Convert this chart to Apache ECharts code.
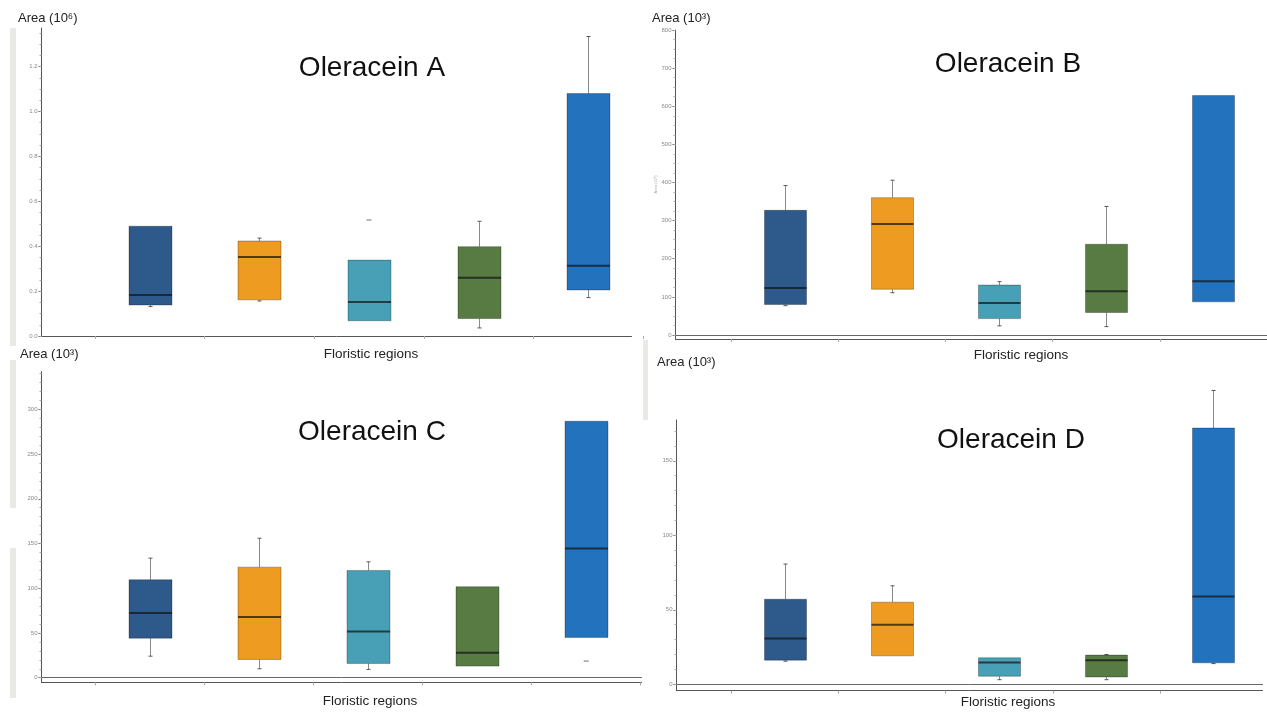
<!DOCTYPE html>
<html><head><meta charset="utf-8">
<script src="https://cdn.jsdelivr.net/npm/echarts@6/dist/echarts.min.js"></script>
<style>html,body{margin:0;padding:0;background:#fff}#c{width:1267px;height:713px}</style>
</head><body><div id="c"></div>
<script>
const regions = ['Region 1', 'Region 2', 'Region 3', 'Region 4', 'Region 5'];
const boxColors = ['#2E5A8B', '#EE9B21', '#48A0B6', '#587B43', '#2272BE'];

// Oleracein A, Area (10^6)
const A_min    = [0.131, 0.156, 0.068, 0.036, 0.171];
const A_q1     = [0.138, 0.161, 0.068, 0.078, 0.205];
const A_median = [0.183, 0.352, 0.152, 0.259, 0.313];
const A_q3     = [0.489, 0.423, 0.338, 0.398, 1.080];
const A_max    = [0.489, 0.436, 0.338, 0.511, 1.334];
const A_outliers = [[2, 0.517]];
const A_ticks  = [0, 0.2, 0.4, 0.6, 0.8, 1.0, 1.2];

// Oleracein B, Area (10^3)
const B_min    = [77, 111, 24, 22, 87];
const B_q1     = [80, 120, 43, 59, 87];
const B_median = [123, 291, 84, 115, 141];
const B_q3     = [327, 360, 131, 238, 628];
const B_max    = [392, 406, 140, 337, 628];
const B_outliers = [];
const B_ticks  = [0, 100, 200, 300, 400, 500, 600, 700, 800];

// Oleracein C, Area (10^3)
const C_min    = [24.1, 10.0, 9.3, 13.0, 44.9];
const C_q1     = [44.2, 20.4, 16.0, 13.0, 44.9];
const C_median = [72.4, 67.9, 51.6, 27.8, 144.4];
const C_q3     = [109.5, 123.6, 119.9, 101.7, 286.6];
const C_max    = [133.6, 155.9, 129.5, 101.7, 286.6];
const C_outliers = [[4, 18.6]];
const C_ticks  = [0, 50, 100, 150, 200, 250, 300];

// Oleracein D, Area (10^3)
const D_min    = [15.5, 19.1, 3.1, 3.1, 13.9];
const D_q1     = [16.2, 19.1, 5.4, 4.9, 14.4];
const D_median = [30.8, 40.0, 14.6, 16.2, 58.9];
const D_q3     = [57.1, 55.1, 17.8, 19.6, 172.0];
const D_max    = [80.7, 66.1, 17.8, 20.0, 197.2];
const D_outliers = [];
const D_ticks  = [0, 50, 100, 150];

function range(a, b, s) { const r = []; for (let v = a; v <= b + 1e-9; v += s) r.push(+v.toFixed(4)); return r; }

const panels = [
  { title: 'Oleracein A', yName: 'Area (10⁶)', min: A_min, q1: A_q1, med: A_median, q3: A_q3, max: A_max, out: A_outliers,
    ticks: A_ticks, minor: range(0, 1.35, 0.05), fmt: v => v.toFixed(1), yMin: 0, yMax: 1.372, zeroLine: false,
    frame: { left: 41.5, top: 28, width: 590, height: 308 }, data: { left: 95, width: 548 },
    titlePos: [372, 68], yNamePos: [18, 18], xNamePos: [371, 354] },
  { title: 'Oleracein B', yName: 'Area (10³)', min: B_min, q1: B_q1, med: B_median, q3: B_q3, max: B_max, out: B_outliers,
    ticks: B_ticks, minor: range(0, 800, 25), fmt: v => String(v), yMin: -10.5, yMax: 800, zeroLine: true,
    frame: { left: 675.5, top: 30, width: 592, height: 309 }, data: { left: 731, width: 545 },
    titlePos: [1008, 64], yNamePos: [652, 18], xNamePos: [1021, 355] },
  { title: 'Oleracein C', yName: 'Area (10³)', min: C_min, q1: C_q1, med: C_median, q3: C_q3, max: C_max, out: C_outliers,
    ticks: C_ticks, minor: range(0, 340, 10), fmt: v => String(v), yMin: -5.1, yMax: 342, zeroLine: true,
    frame: { left: 41.5, top: 371.7, width: 600, height: 310.6 }, data: { left: 95.7, width: 545 },
    titlePos: [372, 432], yNamePos: [20, 354], xNamePos: [370, 701] },
  { title: 'Oleracein D', yName: 'Area (10³)', min: D_min, q1: D_q1, med: D_median, q3: D_q3, max: D_max, out: D_outliers,
    ticks: D_ticks, minor: range(0, 170, 10), fmt: v => String(v), yMin: -4.3, yMax: 177.4, zeroLine: true,
    frame: { left: 676.5, top: 420, width: 586, height: 270.7 }, data: { left: 731.5, width: 545 },
    titlePos: [1011, 440], yNamePos: [657, 362], xNamePos: [1008, 702] }
];

function renderBox(params, api) {
  const i = api.value(0);
  const pLo = api.coord([i, api.value(1)]);
  const pQ1 = api.coord([i, api.value(2)]);
  const pMd = api.coord([i, api.value(3)]);
  const pQ3 = api.coord([i, api.value(4)]);
  const pHi = api.coord([i, api.value(5)]);
  const band = api.size([1, 0])[0];
  const w = Math.round(band * 0.395);
  const x = Math.round(pQ1[0]) + 0.5;
  const children = [];
  const wStyle = { stroke: '#8a8a8a', lineWidth: 1 };
  const cStyle = { stroke: '#555', lineWidth: 1 };
  if (pHi[1] < pQ3[1] - 0.5) {
    children.push({ type: 'line', shape: { x1: x, y1: pQ3[1], x2: x, y2: pHi[1] }, style: wStyle });
    children.push({ type: 'line', shape: { x1: x - 2, y1: pHi[1], x2: x + 2, y2: pHi[1] }, style: cStyle });
  }
  if (pLo[1] > pQ1[1] + 0.5) {
    children.push({ type: 'line', shape: { x1: x, y1: pQ1[1], x2: x, y2: pLo[1] }, style: wStyle });
    children.push({ type: 'line', shape: { x1: x - 2, y1: pLo[1], x2: x + 2, y2: pLo[1] }, style: cStyle });
  }
  children.push({ type: 'rect', shape: { x: x - w / 2, y: pQ3[1], width: w, height: pQ1[1] - pQ3[1] },
    style: { fill: boxColors[i], stroke: 'rgba(0,0,0,0.28)', lineWidth: 1 } });
  children.push({ type: 'line', shape: { x1: x - w / 2, y1: pMd[1], x2: x + w / 2, y2: pMd[1] },
    style: { stroke: 'rgba(20,20,20,0.72)', lineWidth: 2 } });
  return { type: 'group', children };
}

const grid = [], xAxis = [], yAxis = [], series = [], graphic = [];
panels.forEach((p, k) => {
  const fg = 2 * k, dg = 2 * k + 1;
  grid.push({ left: p.frame.left, top: p.frame.top, width: p.frame.width, height: p.frame.height });
  grid.push({ left: p.data.left, top: p.frame.top, width: p.data.width, height: p.frame.height });
  // frame x axis (bottom line)
  xAxis.push({ gridIndex: fg, type: 'value', min: 0, max: 1, position: 'bottom',
    axisLine: { show: true, onZero: false, lineStyle: { color: '#555', width: 1 } },
    axisTick: { show: false }, axisLabel: { show: false }, splitLine: { show: false } });
  if (p.zeroLine) {
    xAxis.push({ gridIndex: fg, type: 'value', min: 0, max: 1,
      axisLine: { show: true, onZero: true, lineStyle: { color: '#666', width: 1 } },
      axisTick: { show: false }, axisLabel: { show: false }, splitLine: { show: false } });
  }
  // data x axis (category bands)
  const dxIndex = xAxis.length;
  xAxis.push({ gridIndex: dg, type: 'category', data: regions, boundaryGap: true,
    axisLine: { show: false, onZero: false }, axisTick: { show: true, length: 3, lineStyle: { color: '#aaa' } },
    axisLabel: { show: false }, splitLine: { show: false } });
  // frame y axis with labels
  yAxis.push({ gridIndex: fg, type: 'value', min: p.yMin, max: p.yMax, position: 'left',
    name: k === 1 ? 'Area (10³)' : '', nameLocation: 'middle', nameGap: 14,
    nameTextStyle: { fontSize: 4, color: '#aaa' },
    axisLine: { show: true, onZero: false, lineStyle: { color: '#555', width: 1 } },
    axisTick: { show: true, length: 3, customValues: p.ticks, lineStyle: { color: '#666' } },
    axisLabel: { show: true, customValues: p.ticks, formatter: p.fmt, fontSize: 6, color: '#888', margin: 4,
      fontFamily: 'Liberation Sans, Arial, sans-serif' },
    splitLine: { show: false } });
  // minor ticks
  yAxis.push({ gridIndex: fg, type: 'value', min: p.yMin, max: p.yMax, position: 'left',
    axisLine: { show: false, onZero: false },
    axisTick: { show: true, length: 2, customValues: p.minor, lineStyle: { color: '#aaa' } },
    axisLabel: { show: false }, splitLine: { show: false } });
  // data y axis (hidden, same scale)
  const dyIndex = yAxis.length;
  yAxis.push({ gridIndex: dg, type: 'value', min: p.yMin, max: p.yMax, show: false,
    axisLine: { onZero: false }, splitLine: { show: false } });

  const rows = regions.map((r, i) => [i, p.min[i], p.q1[i], p.med[i], p.q3[i], p.max[i]]);
  series.push({ type: 'custom', name: p.title, xAxisIndex: dxIndex, yAxisIndex: dyIndex,
    renderItem: renderBox, data: rows, clip: false, silent: true,
    encode: { x: 0, y: [1, 2, 3, 4, 5] } });
  if (p.out.length) {
    series.push({ type: 'scatter', xAxisIndex: dxIndex, yAxisIndex: dyIndex, data: p.out,
      symbol: 'rect', symbolSize: [5, 1.5], itemStyle: { color: '#888' }, silent: true });
  }
  graphic.push({ type: 'text', x: p.titlePos[0], y: p.titlePos[1], silent: true,
    style: { text: p.title, font: '28px "Liberation Sans", Arial, sans-serif', fill: '#111', align: 'center', verticalAlign: 'middle' } });
  graphic.push({ type: 'text', x: p.yNamePos[0], y: p.yNamePos[1], silent: true,
    style: { text: p.yName, font: '13px "Liberation Sans", Arial, sans-serif', fill: '#222', align: 'left', verticalAlign: 'middle' } });
  graphic.push({ type: 'text', x: p.xNamePos[0], y: p.xNamePos[1], silent: true,
    style: { text: 'Floristic regions', font: '13.5px "Liberation Sans", Arial, sans-serif', fill: '#222', align: 'center', verticalAlign: 'middle' } });
});

// faint scan-border strips of the original collage
[[10, 28, 6, 318], [10, 360, 6, 148], [10, 548, 6, 150], [643, 340, 5, 80]].forEach(r => {
  graphic.push({ type: 'rect', z: -10, silent: true, shape: { x: r[0], y: r[1], width: r[2], height: r[3] }, style: { fill: '#ebe9e6' } });
});

const chart = echarts.init(document.getElementById('c'), null, { renderer: 'canvas' });
chart.setOption({
  backgroundColor: '#fff',
  animation: false,
  grid, xAxis, yAxis, series, graphic
});
</script></body></html>
